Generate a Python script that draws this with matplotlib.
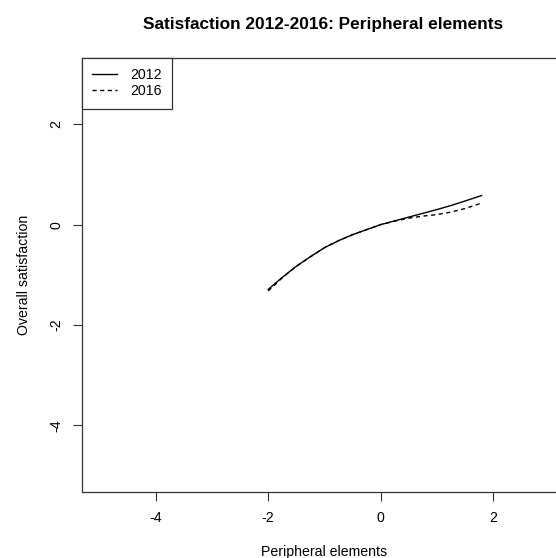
import matplotlib
matplotlib.use("Agg")
import matplotlib.pyplot as plt
import numpy as np

plt.rcParams['font.family'] = ['Liberation Sans', 'DejaVu Sans']

x_vals = [-2.0, -1.75, -1.5, -1.25, -1.0, -0.75, -0.5, -0.25, 0.0, 0.25, 0.5, 0.75, 1.0, 1.25, 1.5, 1.8]
y_2012 = [-1.29, -1.05, -0.83, -0.64, -0.46, -0.32, -0.20, -0.10, 0.0, 0.075, 0.15, 0.225, 0.30, 0.38, 0.47, 0.58]
y_2016 = [-1.32, -1.06, -0.83, -0.64, -0.46, -0.32, -0.20, -0.10, 0.0, 0.07, 0.13, 0.17, 0.20, 0.25, 0.32, 0.43]
series_labels = ["2012", "2016"]
x_ticks = [-4, -2, 0, 2]
y_ticks = [-4, -2, 0, 2]

FS = 10.2

fig = plt.figure(figsize=(5.56, 5.58), dpi=100)
ax = fig.add_axes([0.1469, 0.1188, 0.8729, 0.7772])

ax.plot(x_vals, y_2012, color='black', lw=1.0, ls='-', label=series_labels[0])
ax.plot(x_vals, y_2016, color='black', lw=1.0, ls=(0, (3, 2.5)), label=series_labels[1])

ax.set_xlim(-5.32, 3.32)
ax.set_ylim(-5.32, 3.32)
ax.set_xticks(x_ticks)
ax.set_yticks(y_ticks)
ax.set_xticklabels([str(v) for v in x_ticks])
ax.set_yticklabels([str(v) for v in y_ticks], rotation=90, va='center')
ax.tick_params(axis='both', length=6.5, width=0.8, color='#333333', labelsize=FS)
ax.tick_params(axis='x', pad=7.5)
ax.tick_params(axis='y', pad=6.5)
for s in ax.spines.values():
    s.set_color('#333333')
    s.set_linewidth(0.9)

ax.set_xlabel("Peripheral elements", fontsize=FS)
ax.xaxis.set_label_coords(0.5, -(551.7 - 491.7) / 433.7)
ax.xaxis.label.set_va('center')
ax.set_ylabel("Overall satisfaction", fontsize=FS)
ax.yaxis.set_label_coords((24 - 81.7) / 485.3, 0.5)
ax.yaxis.label.set_va('center')

fig.text(323 / 556, 1 - 25 / 558, "Satisfaction 2012-2016: Peripheral elements",
         ha='center', va='center', fontsize=12.4, fontweight='bold')

leg = ax.legend(loc='upper left', bbox_to_anchor=(0, 1), borderaxespad=0,
                fontsize=FS, handlelength=1.75, handletextpad=0.94,
                borderpad=0.72, labelspacing=0.15, fancybox=False,
                framealpha=1, edgecolor='#333333')
leg.get_frame().set_linewidth(0.9)

fig.savefig("out.png", dpi=100)
